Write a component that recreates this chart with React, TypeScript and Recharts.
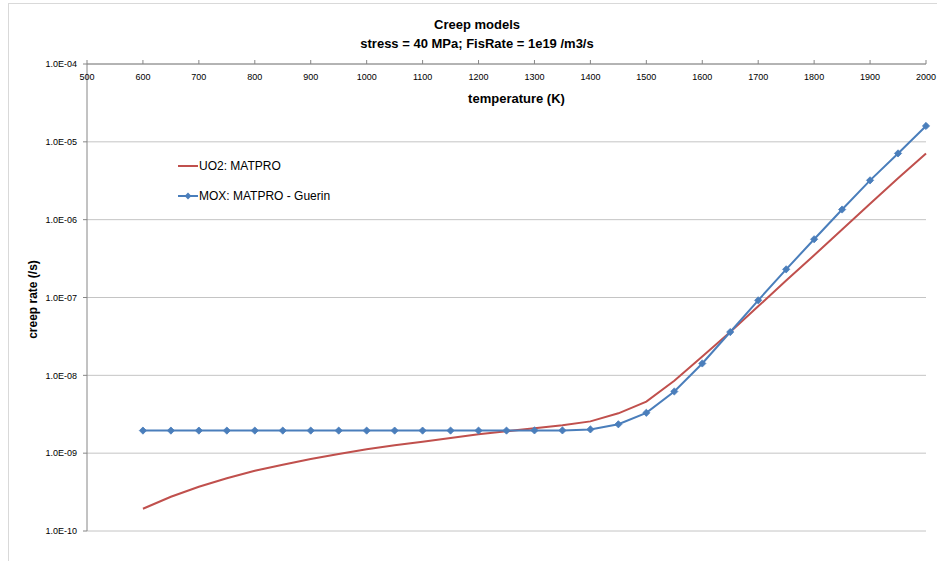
import { LineChart, Line, XAxis, YAxis, CartesianGrid, Legend } from "recharts";

// temperature (K)
const temps = [
  600, 650, 700, 750, 800, 850, 900, 950, 1000, 1050, 1100, 1150, 1200, 1250, 1300,
  1350, 1400, 1450, 1500, 1550, 1600, 1650, 1700, 1750, 1800, 1850, 1900, 1950, 2000,
];

// creep rate (/s)
const uo2Matpro = [
  1.93e-10, 2.75e-10, 3.7e-10, 4.75e-10, 5.95e-10, 7.1e-10, 8.4e-10, 9.75e-10, 1.12e-9,
  1.26e-9, 1.4e-9, 1.57e-9, 1.75e-9, 1.91e-9, 2.09e-9, 2.28e-9, 2.56e-9, 3.25e-9, 4.6e-9,
  8.5e-9, 1.75e-8, 3.6e-8, 7.7e-8, 1.65e-7, 3.5e-7, 7.5e-7, 1.6e-6, 3.4e-6, 7.1e-6,
];
const moxGuerin = [
  1.95e-9, 1.95e-9, 1.95e-9, 1.95e-9, 1.95e-9, 1.95e-9, 1.95e-9, 1.95e-9, 1.95e-9,
  1.95e-9, 1.95e-9, 1.95e-9, 1.95e-9, 1.95e-9, 1.96e-9, 1.96e-9, 2.02e-9, 2.35e-9, 3.3e-9,
  6.2e-9, 1.42e-8, 3.6e-8, 9.2e-8, 2.3e-7, 5.6e-7, 1.35e-6, 3.2e-6, 7.1e-6, 1.6e-5,
];

const xTicks = [500, 600, 700, 800, 900, 1000, 1100, 1200, 1300, 1400, 1500, 1600, 1700, 1800, 1900, 2000];
const yTicks = [1e-10, 1e-9, 1e-8, 1e-7, 1e-6, 1e-5, 1e-4];
const yTickLabels = ["1.0E-10", "1.0E-09", "1.0E-08", "1.0E-07", "1.0E-06", "1.0E-05", "1.0E-04"];
const minorSteps = [2, 3, 4, 5, 6, 7, 8, 9];
const yMinorTicks = yTicks.slice(0, -1).flatMap((d) => minorSteps.map((m) => m * d));

const seriesNames = ["UO2: MATPRO", "MOX: MATPRO - Guerin"];
const RED = "#C0504D";
const BLUE = "#4A7EBB";
const AXIS = "#868686";
const FONT = "'Liberation Sans', Arial, sans-serif";

const data = temps.map((t, i) => ({ T: t, uo2: uo2Matpro[i], mox: moxGuerin[i] }));

const Diamond = (props: any) => {
  const { cx, cy, index } = props;
  if (cx == null || cy == null) return <g key={index} />;
  const r = 3.6;
  return (
    <polygon
      key={index}
      points={`${cx},${cy - r} ${cx + r},${cy} ${cx},${cy + r} ${cx - r},${cy}`}
      fill={BLUE}
      stroke={BLUE}
      strokeWidth={0.8}
    />
  );
};

const XTick = (props: any) => {
  const { x, y, payload } = props;
  return (
    <text x={x} y={y + 22} textAnchor="middle" fontSize={9} fontFamily={FONT} fill="#000">
      {payload.value}
    </text>
  );
};

const XLabel = (props: any) => {
  const vb = props.viewBox;
  return (
    <text
      x={vb.x + vb.width / 2 + 10}
      y={vb.y + vb.height + 39}
      textAnchor="middle"
      fontSize={13}
      fontWeight="bold"
      fontFamily={FONT}
      fill="#000"
    >
      temperature (K)
    </text>
  );
};

const YLabel = (props: any) => {
  const vb = props.viewBox;
  const x = vb.x + 26;
  const y = vb.y + vb.height / 2 + 2;
  return (
    <text
      x={x}
      y={y}
      transform={`rotate(-90 ${x} ${y})`}
      textAnchor="middle"
      dominantBaseline="central"
      fontSize={12}
      fontWeight="bold"
      fontFamily={FONT}
      fill="#000"
    >
      creep rate (/s)
    </text>
  );
};

const LegendBox = () => (
  <div style={{ fontFamily: FONT, fontSize: 12, color: "#000" }}>
    {seriesNames.map((name, i) => (
      <div key={name} style={{ display: "flex", alignItems: "center", height: 15, marginBottom: 15 }}>
        <svg width={20} height={10} style={{ marginRight: 1 }}>
          <line x1={0} y1={5} x2={20} y2={5} stroke={i === 0 ? RED : BLUE} strokeWidth={2} />
          {i === 1 && <polygon points="10,1.6 13.4,5 10,8.4 6.6,5" fill={BLUE} />}
        </svg>
        <span>{name}</span>
      </div>
    ))}
  </div>
);

export default function App() {
  return (
    <div style={{ position: "absolute", left: 0, top: 0, width: 937, height: 561, background: "#fff", overflow: "hidden" }}>
      <div
        style={{
          position: "absolute",
          left: 8,
          top: 3,
          width: 940,
          height: 570,
          borderLeft: "1px solid #d9d9d9",
          borderTop: "1px solid #d9d9d9",
        }}
      />
      <div
        style={{
          position: "absolute",
          left: 277,
          top: 15,
          width: 400,
          textAlign: "center",
          fontFamily: FONT,
          fontWeight: "bold",
          fontSize: 13,
          lineHeight: "19px",
          color: "#000",
        }}
      >
        <div>Creep models</div>
        <div>stress = 40 MPa; FisRate = 1e19 /m3/s</div>
      </div>
      <LineChart
        width={937}
        height={561}
        data={data}
        margin={{ top: 44, right: 11, bottom: 30, left: 7 }}
        style={{ position: "absolute", left: 0, top: 0 }}
      >
        <CartesianGrid yAxisId="main" vertical={false} stroke="#c4c4c4" strokeWidth={1} />
        <XAxis
          dataKey="T"
          type="number"
          orientation="top"
          domain={[500, 2000]}
          ticks={xTicks}
          interval={0}
          height={20}
          tickSize={4}
          tickMargin={2}
          stroke={AXIS}
          tick={<XTick />}
          label={<XLabel />}
        />
        <YAxis
          yAxisId="minor"
          scale="log"
          domain={[1e-10, 1e-4]}
          ticks={yMinorTicks}
          interval={0}
          width={0}
          axisLine={false}
          tickSize={3}
          tickLine={{ stroke: AXIS }}
          tickFormatter={() => ""}
          allowDataOverflow
        />
        <YAxis
          yAxisId="main"
          scale="log"
          domain={[1e-10, 1e-4]}
          ticks={yTicks}
          interval={0}
          width={80}
          tickSize={4}
          tickMargin={6}
          stroke={AXIS}
          tick={{ fill: "#000", fontSize: 9, fontFamily: FONT }}
          tickFormatter={(v: number) => yTickLabels[yTicks.findIndex((t) => Math.abs(t - v) / t < 1e-6)] ?? ""}
          label={<YLabel />}
          allowDataOverflow
        />
        <Legend
          layout="vertical"
          align="center"
          verticalAlign="middle"
          content={<LegendBox />}
          wrapperStyle={{ position: "absolute", left: 178, top: 158, width: 200, height: 60 }}
        />
        <Line
          yAxisId="main"
          dataKey="uo2"
          name={seriesNames[0]}
          type="linear"
          stroke={RED}
          strokeWidth={2}
          dot={false}
          isAnimationActive={false}
        />
        <Line
          yAxisId="main"
          dataKey="mox"
          name={seriesNames[1]}
          type="linear"
          stroke={BLUE}
          strokeWidth={2}
          dot={<Diamond />}
          isAnimationActive={false}
        />
      </LineChart>
    </div>
  );
}
